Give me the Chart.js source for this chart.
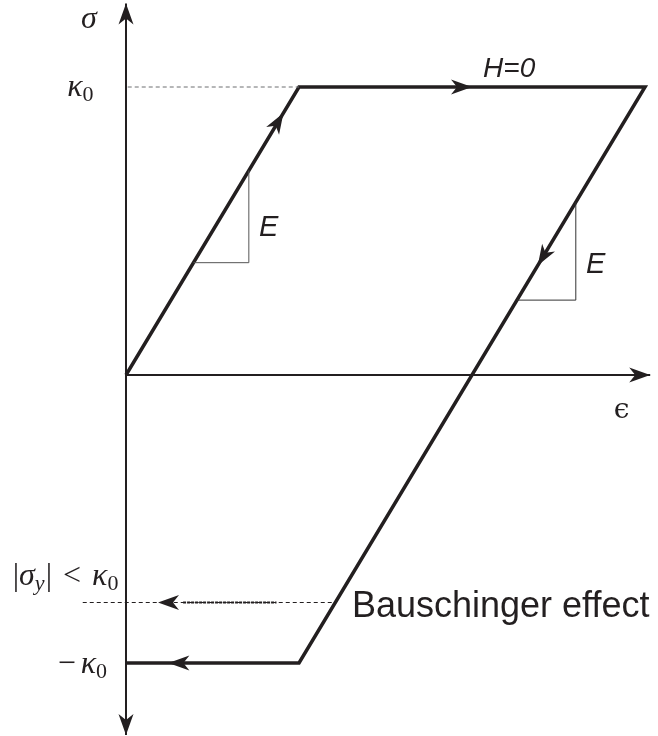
<!DOCTYPE html>
<html>
<head>
<meta charset="utf-8">
<script src="https://cdn.jsdelivr.net/npm/chart.js@4.4.1/dist/chart.umd.min.js"></script>
<style>
  html, body { margin: 0; padding: 0; background: #fff; }
  canvas { display: block; }
</style>
</head>
<body>
<canvas id="myChart" width="658" height="736"></canvas>
<script>
// strain in units of the yield strain, stress in units of kappa0
var loopEps = [0, 1, 3, 1, 0];
var loopSig = [0, 1, 1, -1, -1];

var kappa0 = 1;
var sigmaY = -0.79;          // reversed yield stress (Bauschinger)
var kappaLineEps = [0.01, 1];
var bauschLineEps = [-0.25, 1.21];
var bauschTrailEps = [0.33, 0.87];

// slope triangles (E) on loading and unloading branches
var tri1Eps = [0.39, 0.71, 0.71];
var tri1Sig = [0.39, 0.39, 0.71];
var tri2Eps = [2.26, 2.6, 2.6];
var tri2Sig = [0.26, 0.26, 0.6];

// axis extents
var epsAxis = [0, 3.03];
var sigAxis = [-1.25, 1.29];

// arrowheads: position of tip and direction
var arrows = [
  {x: 0.91, y: 0.91, dx: 1, dy: 1},
  {x: 2.0, y: 1, dx: 1, dy: 0},
  {x: 2.38, y: 0.38, dx: -1, dy: -1},
  {x: 0.245, y: -1, dx: -1, dy: 0},
  {x: 0.185, y: -0.79, dx: -1, dy: 0},
  {x: 0, y: 1.29, dx: 0, dy: 1},
  {x: 0, y: -1.25, dx: 0, dy: -1},
  {x: 3.03, y: 0, dx: 1, dy: 0}
];

var MATH = '"Liberation Serif", "DejaVu Serif", serif';
var SANS = '"Liberation Sans", Arial, sans-serif';
var M = 'italic 32px ' + MATH, MR = '32px ' + MATH, SUB = '22px ' + MATH;

// text labels; runs are [font, text, vertical shift, extra space after]
var texts = [
  {x: -0.26, y: 1.205, runs: [[M, 'σ', 0, 0]]},
  {x: -0.34, y: 0.97, runs: [[M, 'κ', 0, 0], [SUB, '0', 5, 0]]},
  {x: -0.395, y: -1.035, runs: [[MR, '−', 0, 5], [M, 'κ', 0, 0], [SUB, '0', 5, 0]]},
  {x: -0.655, y: -0.729, runs: [[MR, '|', 0, 0], [M, 'σ', 0, 0], ['italic 22px ' + MATH, 'y', 5, 1],
                                [MR, '|', 0, 11], [MR, '<', 0, 11],
                                [M, 'κ', 0, 0], [SUB, '0', 5, 0]]},
  {x: 2.82, y: -0.148, runs: [['28px "DejaVu Serif", serif', 'ϵ', 0, 0]]},
  {x: 2.064, y: 1.036, runs: [['italic 28px ' + SANS, 'H=0', 0, 0]]},
  {x: 0.769, y: 0.483, runs: [['italic 29px ' + SANS, 'E', 0, 0]]},
  {x: 2.659, y: 0.354, runs: [['italic 29px ' + SANS, 'E', 0, 0]]},
  {x: 1.306, y: -0.84, runs: [['36px ' + SANS, 'Bauschinger effect', 0, 0]]}
];

function pts(xs, ys) {
  return xs.map(function (x, i) { return {x: x, y: ys[i]}; });
}
function flat(xs, y) {
  return xs.map(function (x) { return {x: x, y: y}; });
}

var INK = '#231f20';

function lineSet(data, width, color, dash) {
  return {
    data: data,
    showLine: true,
    borderColor: color,
    borderWidth: width,
    borderDash: dash || [],
    pointRadius: 0,
    fill: false,
    tension: 0,
    borderJoinStyle: 'miter'
  };
}

var arrowPlugin = {
  id: 'arrowheads',
  afterDatasetsDraw: function (chart) {
    var ctx = chart.ctx, xs = chart.scales.x, ys = chart.scales.y;
    ctx.save();
    ctx.fillStyle = INK;
    arrows.forEach(function (a) {
      var px = xs.getPixelForValue(a.x), py = ys.getPixelForValue(a.y);
      var qx = xs.getPixelForValue(a.x + a.dx * 0.1), qy = ys.getPixelForValue(a.y + a.dy * 0.1);
      var vx = qx - px, vy = qy - py, n = Math.sqrt(vx * vx + vy * vy);
      vx /= n; vy /= n;
      var L = 21, W = 7.5, notch = 15;
      var bx = px - vx * L, by = py - vy * L;
      ctx.beginPath();
      ctx.moveTo(px, py);
      ctx.lineTo(bx - vy * W, by + vx * W);
      ctx.lineTo(px - vx * notch, py - vy * notch);
      ctx.lineTo(bx + vy * W, by - vx * W);
      ctx.closePath();
      ctx.fill();
    });
    ctx.restore();
  }
};

var textPlugin = {
  id: 'labels',
  afterDatasetsDraw: function (chart) {
    var ctx = chart.ctx, xs = chart.scales.x, ys = chart.scales.y;
    ctx.save();
    ctx.fillStyle = INK;
    ctx.textBaseline = 'alphabetic';
    ctx.textAlign = 'left';
    texts.forEach(function (t) {
      var cx = xs.getPixelForValue(t.x), cy = ys.getPixelForValue(t.y);
      t.runs.forEach(function (r) {
        ctx.font = r[0];
        ctx.fillText(r[1], cx, cy + r[2]);
        cx += ctx.measureText(r[1]).width + r[3];
      });
    });
    ctx.restore();
  }
};

var myChart = document.getElementById('myChart').getContext('2d');

var chart = new Chart(myChart, {
  type: 'scatter',
  data: {
    datasets: [
      lineSet(flat(kappaLineEps, kappa0), 1, '#6d6e70', [4, 3]),
      lineSet(flat(bauschLineEps, sigmaY), 1, INK, [4, 3]),
      lineSet(flat(bauschTrailEps, sigmaY), 1.8, INK, [3, 1]),
      lineSet(pts([0, 0], sigAxis), 2, INK),
      lineSet(pts(epsAxis, [0, 0]), 2, INK),
      lineSet(pts(tri1Eps, tri1Sig), 1, '#555'),
      lineSet(pts(tri2Eps, tri2Sig), 1, '#333'),
      lineSet(pts(loopEps, loopSig), 3.5, INK)
    ]
  },
  options: {
    responsive: false,
    animation: false,
    layout: {padding: 0},
    plugins: {legend: {display: false}, tooltip: {enabled: false}},
    scales: {
      x: {type: 'linear', display: false, min: -0.7283, max: 3.0751},
      y: {type: 'linear', display: false, min: -1.2535, max: 1.3021}
    }
  },
  plugins: [arrowPlugin, textPlugin]
});
</script>
</body>
</html>
